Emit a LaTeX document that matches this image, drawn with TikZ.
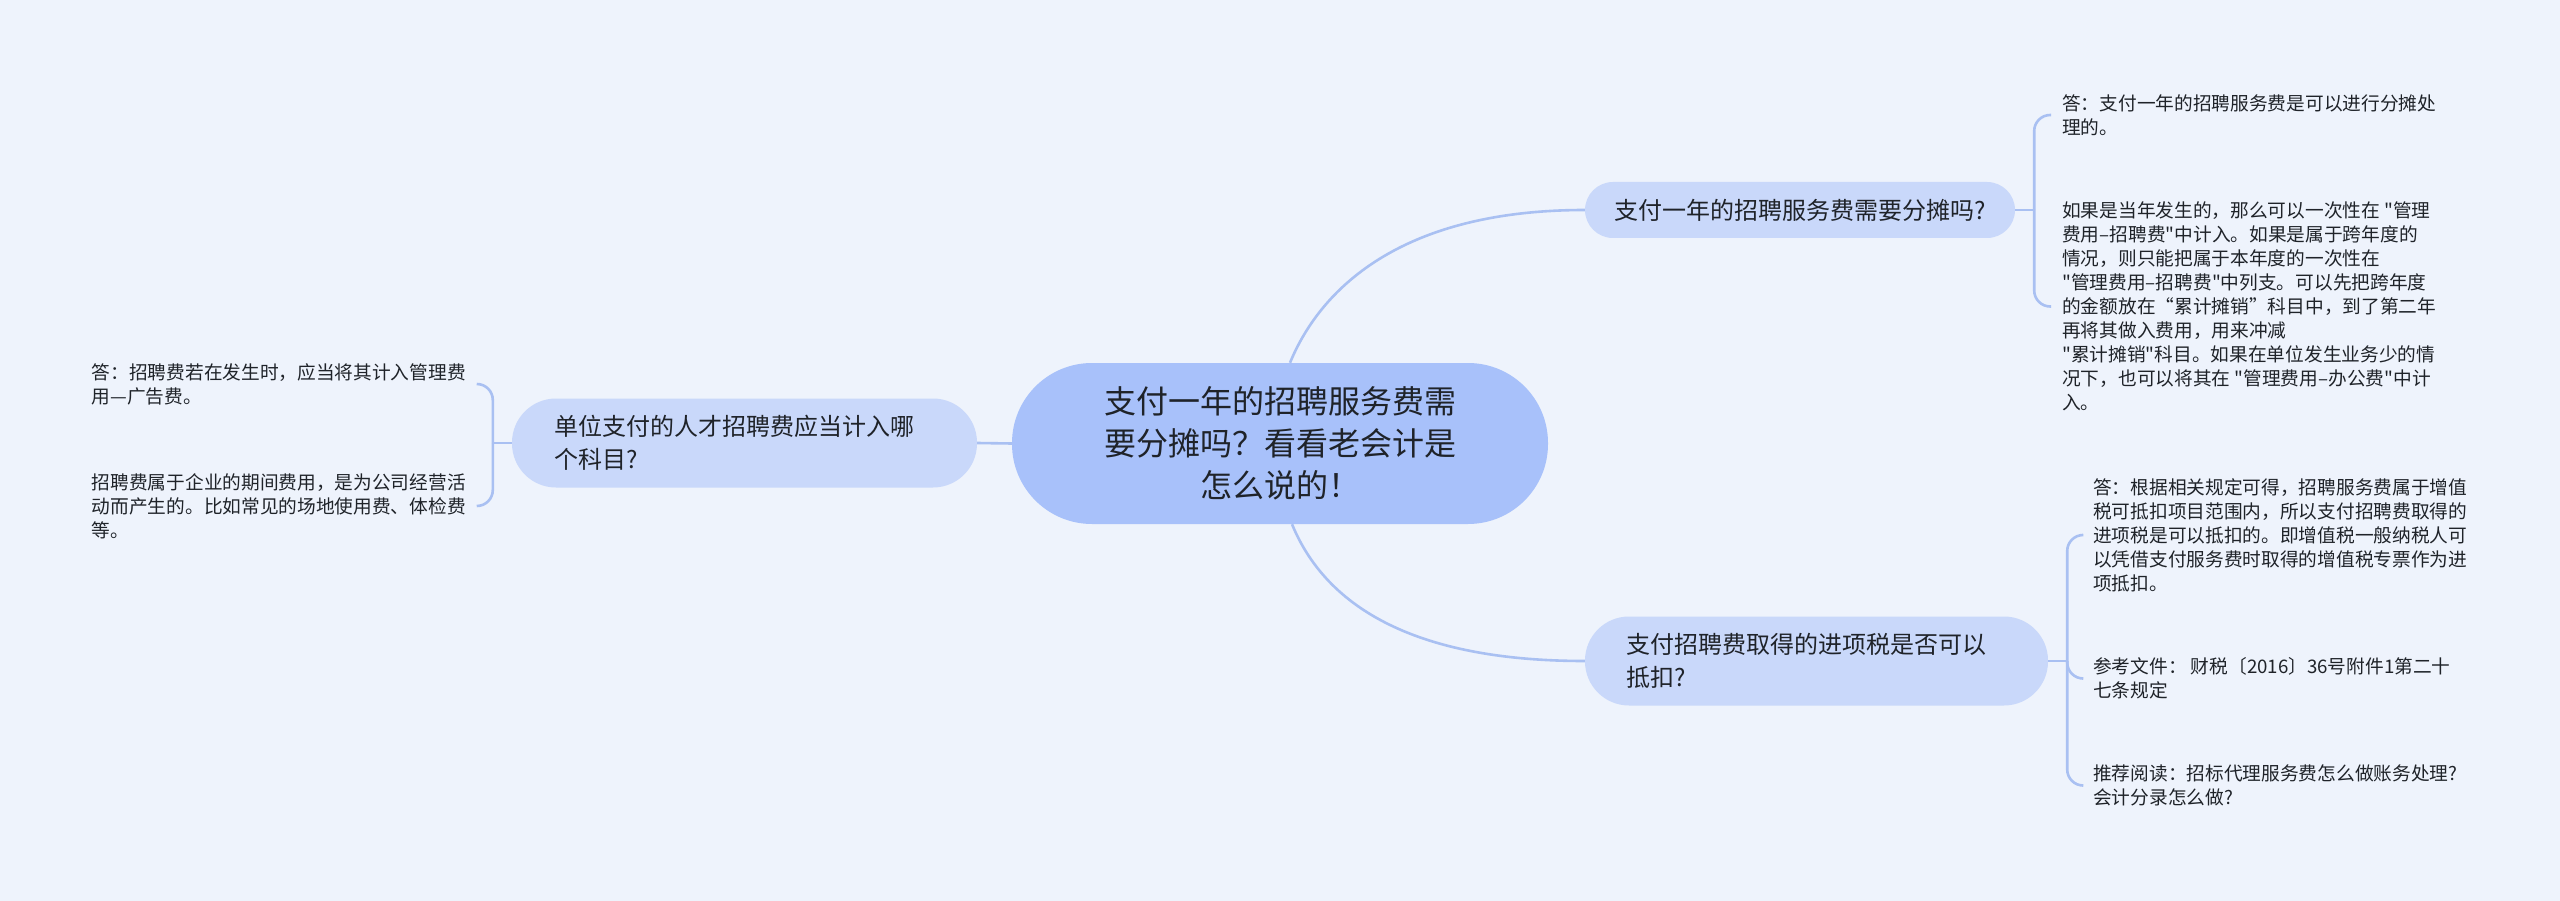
\documentclass[tikz,border=0pt]{standalone}
\usepackage{fontspec}
\setmainfont{Noto Sans CJK SC}[Ligatures=TeXOff]
\definecolor{bg}{HTML}{EEF3FC}
\definecolor{rootfill}{HTML}{A8C1FA}
\definecolor{brfill}{HTML}{C9D8FA}
\definecolor{linec}{HTML}{A9C0F2}
\definecolor{txt}{HTML}{1F2329}
\begin{document}
\begin{tikzpicture}[x=1pt,y=-1pt,
  conn/.style={draw=linec,line width=2.6pt},
  rootnode/.style={fill=rootfill,rounded corners=80pt,minimum width=536pt,minimum height=161pt,align=center,font=\fontsize{32}{42}\selectfont,text=txt,inner sep=0pt},
  branchone/.style={fill=brfill,rounded corners=28pt,minimum width=430pt,minimum height=56pt,align=center,font=\fontsize{24}{33}\selectfont,text=txt,inner sep=0pt},
  branchtwo/.style={fill=brfill,rounded corners=44pt,text width=380pt,minimum height=89pt,align=left,font=\fontsize{24}{33}\selectfont,text=txt,inner ysep=0pt},
  leaf/.style={align=left,font=\fontsize{18.7}{24}\selectfont,text=txt,inner xsep=11pt,inner ysep=0pt}]
\useasboundingbox (0,0) rectangle (2560,901);
\fill[bg] (0,0) rectangle (2560,901);

% root and branches
\node[rootnode] (root) at (1280,443.5) {支付一年的招聘服务费需\\要分摊吗？看看老会计是\\怎么说的！};
\node[branchone] (b1) at (1800,210) {支付一年的招聘服务费需要分摊吗?};
\node[branchtwo,inner xsep=41.5pt] (b2) at (1816.5,661) {支付招聘费取得的进项税是否可以\\抵扣?};
\node[branchtwo,inner xsep=42.5pt] (b3) at (744.5,443) {单位支付的人才招聘费应当计入哪\\个科目?};

% leaves
\node[leaf,anchor=west] (t1) at (2051,115) {答：支付一年的招聘服务费是可以进行分摊处\\理的。};
\node[leaf,anchor=west] (t2) at (2051,306.5) {如果是当年发生的，那么可以一次性在 "管理\\费用–招聘费"中计入。如果是属于跨年度的\\情况，则只能把属于本年度的一次性在\\"管理费用–招聘费"中列支。可以先把跨年度\\的金额放在“累计摊销”科目中，到了第二年\\再将其做入费用，用来冲减\\"累计摊销"科目。如果在单位发生业务少的情\\况下，也可以将其在 "管理费用–办公费"中计\\入。};
\node[leaf,anchor=west] (r1) at (2082,535) {答：根据相关规定可得，招聘服务费属于增值\\税可抵扣项目范围内，所以支付招聘费取得的\\进项税是可以抵扣的。即增值税一般纳税人可\\以凭借支付服务费时取得的增值税专票作为进\\项抵扣。};
\node[leaf,anchor=west] (r2) at (2082,678.5) {参考文件： 财税〔2016〕36号附件1第二十\\七条规定};
\node[leaf,anchor=west] (r3) at (2082,785.5) {推荐阅读：招标代理服务费怎么做账务处理?\\会计分录怎么做?};
\node[leaf,anchor=east] (l1) at (477,384) {答：招聘费若在发生时，应当将其计入管理费\\用—广告费。};
\node[leaf,anchor=east] (l2) at (477,506) {招聘费属于企业的期间费用，是为公司经营活\\动而产生的。比如常见的场地使用费、体检费\\等。};

% junctions
\coordinate (rt) at ([xshift=10pt]root.north);
\coordinate (rb) at ([xshift=12pt]root.south);
\coordinate (j1) at ([xshift=19pt]b1.east);
\coordinate (j2) at ([xshift=19pt]b2.east);
\coordinate (j3) at ([xshift=-19pt]b3.west);

% connectors
\draw[conn] (rt) .. controls +(30,-73) and +(-185,0) .. (b1.west);
\draw[conn] (rb) .. controls +(30,73) and +(-185,0) .. (b2.west);
\draw[conn] (root.west) -- (b3.east);
\draw[conn] (b1.east) -- (j1);
\draw[conn] (b2.east) -- (j2);
\draw[conn] (b3.west) -- (j3);
\draw[conn,rounded corners=16pt] (j1) |- (t1.west);
\draw[conn,rounded corners=16pt] (j1) |- (t2.west);
\draw[conn,rounded corners=16pt] (j2) |- (r1.west);
\draw[conn,rounded corners=16pt] (j2) |- (r2.west);
\draw[conn,rounded corners=16pt] (j2) |- (r3.west);
\draw[conn,rounded corners=16pt] (j3) |- (l1.east);
\draw[conn,rounded corners=16pt] (j3) |- (l2.east);
\end{tikzpicture}
\end{document}
